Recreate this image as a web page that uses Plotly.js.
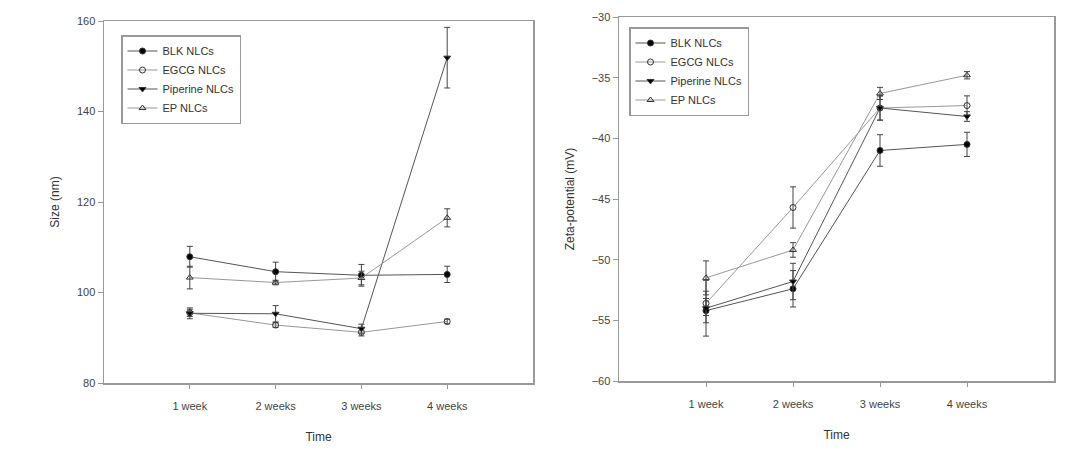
<!DOCTYPE html>
<html>
<head>
<meta charset="utf-8">
<script src="https://cdn.plot.ly/plotly-3.0.1.min.js"></script>
<style>html,body{margin:0;padding:0;background:#fff;}#chart{width:1078px;height:458px;}</style>
</head>
<body>
<div id="chart"></div>
<script>
// Categories
var timeLabels = ["1 week", "2 weeks", "3 weeks", "4 weeks"];
var timePos = [1, 2, 3, 4];
var seriesNames = ["BLK NLCs", "EGCG NLCs", "Piperine NLCs", "EP NLCs"];

// Size (nm)
var sizeBLK = [107.9, 104.6, 103.8, 104.0];
var sizeBLKErr = [2.3, 2.1, 2.4, 1.8];
var sizeEGCG = [95.5, 92.8, 91.2, 93.6];
var sizeEGCGErr = [0.8, 0.5, 0.8, 0.5];
var sizePip = [95.4, 95.3, 92.0, 151.9];
var sizePipErr = [1.2, 1.8, 1.0, 6.7];
var sizeEP = [103.3, 102.2, 103.2, 116.5];
var sizeEPErr = [2.5, 0.5, 1.5, 2.0];

// Zeta-potential (mV)
var zetaBLK = [-54.2, -52.4, -41.0, -40.5];
var zetaBLKErr = [1.0, 1.5, 1.3, 1.0];
var zetaEGCG = [-53.6, -45.7, -37.5, -37.3];
var zetaEGCGErr = [1.0, 1.7, 1.0, 0.8];
var zetaPip = [-54.0, -51.8, -37.5, -38.2];
var zetaPipErr = [2.3, 1.5, 1.0, 0.4];
var zetaEP = [-51.5, -49.2, -36.3, -34.8];
var zetaEPErr = [1.4, 0.6, 0.5, 0.3];

var styles = [
  {symbol: "circle", line: "#555"},
  {symbol: "circle-open", line: "#999"},
  {symbol: "triangle-down", line: "#555"},
  {symbol: "triangle-up-open", line: "#999"}
];

function mk(y, err, i, xa, ya, leg) {
  var s = styles[i];
  return {
    x: timePos, y: y, type: "scatter", mode: "lines+markers",
    name: seriesNames[i], xaxis: xa, yaxis: ya, legend: leg,
    line: {color: s.line, width: 1},
    marker: {symbol: s.symbol, size: 6, color: s.symbol.indexOf("open") >= 0 ? "#333" : "#000",
             line: {color: "#333", width: 1}},
    error_y: {type: "data", array: err, visible: true, color: "#444", thickness: 1, width: 3}
  };
}

var data = [
  mk(sizeBLK, sizeBLKErr, 0, "x", "y", "legend"),
  mk(sizeEGCG, sizeEGCGErr, 1, "x", "y", "legend"),
  mk(sizePip, sizePipErr, 2, "x", "y", "legend"),
  mk(sizeEP, sizeEPErr, 3, "x", "y", "legend"),
  mk(zetaBLK, zetaBLKErr, 0, "x2", "y2", "legend2"),
  mk(zetaEGCG, zetaEGCGErr, 1, "x2", "y2", "legend2"),
  mk(zetaPip, zetaPipErr, 2, "x2", "y2", "legend2"),
  mk(zetaEP, zetaEPErr, 3, "x2", "y2", "legend2")
];

function tickFont() { return {family: "Liberation Sans, Arial, sans-serif", size: 11, color: "rgb(68,68,68)"}; }
function titleFont() { return {family: "Liberation Sans, Arial, sans-serif", size: 12, color: "rgb(51,51,51)"}; }

function xax(dom, anchor) {
  return {
    domain: dom, anchor: anchor, range: [0, 5], tickvals: timePos, ticktext: timeLabels,
    showline: true, mirror: true, linecolor: "#999", linewidth: 1.5, color: "rgb(68,68,68)",
    ticks: "outside", ticklen: 4, tickcolor: "#999", showgrid: false, zeroline: false,
    ticklabelstandoff: 8,
    tickfont: tickFont(), title: {text: "Time", font: titleFont(), standoff: 22}
  };
}
function yax(dom, anchor, range, dtick, title) {
  return {
    domain: dom, anchor: anchor, range: range, dtick: dtick,
    showline: true, mirror: true, linecolor: "#999", linewidth: 1.5, color: "rgb(68,68,68)",
    ticks: "outside", ticklen: 5, tickcolor: "#999", showgrid: false, zeroline: false,
    tickfont: tickFont(), title: {text: title, font: titleFont(), standoff: 14}
  };
}

function legendStyle(x, y) {
  return {
    bgcolor: "#fff", bordercolor: "#999", borderwidth: 1.5,
    font: {family: "Liberation Sans, Arial, sans-serif", size: 11, color: "#333"},
    xanchor: "left", yanchor: "top", tracegroupgap: 0, itemwidth: 30, x: x, y: y
  };
}

var layout = {
  width: 1078, height: 458,
  margin: {l: 0, r: 0, t: 0, b: 0},
  paper_bgcolor: "#fff", plot_bgcolor: "#fff",
  font: {family: "Liberation Sans, Arial, sans-serif", size: 11, color: "rgb(68,68,68)"},
  showlegend: true,
  xaxis: xax([104/1078, 533/1078], "y"),
  yaxis: yax([1 - 383/458, 1 - 21/458], "x", [80, 160], 20, "Size (nm)"),
  xaxis2: xax([619/1078, 1054/1078], "y2"),
  yaxis2: yax([1 - 381/458, 1 - 17/458], "x2", [-60, -30], 5, "Zeta-potential (mV)"),
  legend: legendStyle(121/1078, 1 - 35/458),
  legend2: legendStyle(629/1078, 1 - 27/458)
};

Plotly.newPlot("chart", data, layout, {displayModeBar: false, staticPlot: true});
</script>
</body>
</html>
